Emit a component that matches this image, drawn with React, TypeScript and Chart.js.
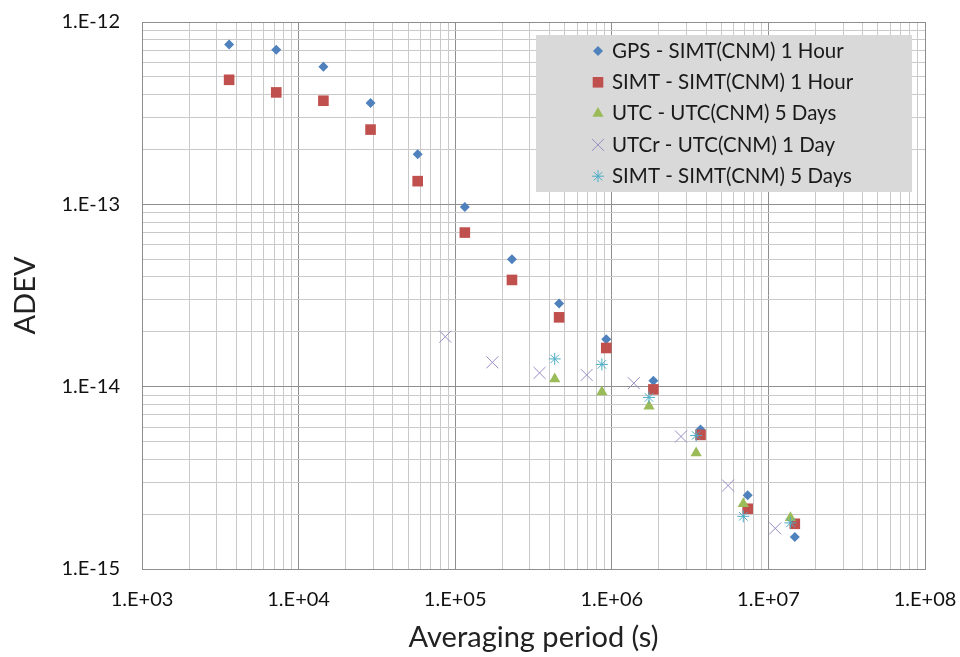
import React, { useEffect, useRef } from 'react';
import { Chart, registerables } from 'chart.js';
import { drawPoint } from 'chart.js/helpers';

Chart.register(...registerables);

const FONT = 'Lato, "Liberation Sans", sans-serif';

const seriesNames = [
  'GPS - SIMT(CNM) 1 Hour',
  'SIMT - SIMT(CNM) 1 Hour',
  'UTC - UTC(CNM) 5 Days',
  'UTCr - UTC(CNM) 1 Day',
  'SIMT - SIMT(CNM) 5 Days',
];

const gpsTau = [3600, 7200, 14400, 28800, 57600, 115200, 230400, 460800, 921600, 1843200, 3686400, 7372800, 14745600];
const gpsAdev = [7.53e-13, 7.05e-13, 5.68e-13, 3.59e-13, 1.88e-13, 9.68e-14, 5.0e-14, 2.86e-14, 1.82e-14, 1.076e-14, 5.82e-15, 2.54e-15, 1.5e-15];

const simtHourTau = [3600, 7200, 14400, 28800, 57600, 115200, 230400, 460800, 921600, 1843200, 3686400, 7372800, 14745600];
const simtHourAdev = [4.82e-13, 4.11e-13, 3.7e-13, 2.57e-13, 1.34e-13, 7.0e-14, 3.85e-14, 2.4e-14, 1.63e-14, 9.66e-15, 5.44e-15, 2.14e-15, 1.77e-15];

const utcTau = [432000, 864000, 1728000, 3456000, 6912000, 13824000];
const utcAdev = [1.1e-14, 9.36e-15, 7.81e-15, 4.33e-15, 2.28e-15, 1.91e-15];

const utcrTau = [86400, 172800, 345600, 691200, 1382400, 2764800, 5529600, 11059200];
const utcrAdev = [1.88e-14, 1.36e-14, 1.19e-14, 1.16e-14, 1.045e-14, 5.33e-15, 2.87e-15, 1.67e-15];

const simtDayTau = [432000, 864000, 1728000, 3456000, 6912000, 13824000];
const simtDayAdev = [1.42e-14, 1.325e-14, 8.73e-15, 5.4e-15, 1.945e-15, 1.79e-15];

const xDecades = [1e3, 1e4, 1e5, 1e6, 1e7, 1e8];
const xTickLabels = ['1.E+03', '1.E+04', '1.E+05', '1.E+06', '1.E+07', '1.E+08'];
const yDecades = [1e-15, 1e-14, 1e-13, 1e-12];
const yTickLabels = ['1.E-15', '1.E-14', '1.E-13', '1.E-12'];
const minorSteps = [1, 2, 3, 4, 5, 6, 7, 8, 9];

const colors = ['#4f81bd', '#c0504d', '#9bbb59', '#9a8cc4', '#4bacc6'];
const styles = ['rectRot', 'rect', 'triangle', 'crossRot', 'star'];
const radii = [5, 7.5, 6.5, 8.5, 6];
const borderWidths = [0, 0, 0, 1, 1];

const pts = (xs: number[], ys: number[]) => xs.map((x, i) => ({ x, y: ys[i] }));
const seriesData = [
  pts(gpsTau, gpsAdev),
  pts(simtHourTau, simtHourAdev),
  pts(utcTau, utcAdev),
  pts(utcrTau, utcrAdev),
  pts(simtDayTau, simtDayAdev),
];

function buildTicks(decades: number[]) {
  const out: { value: number }[] = [];
  for (let i = 0; i < decades.length - 1; i++) {
    for (const k of minorSteps) out.push({ value: k * decades[i] });
  }
  out.push({ value: decades[decades.length - 1] });
  return out;
}

function decadeLabel(v: number, decades: number[], labels: string[]) {
  for (let i = 0; i < decades.length; i++) {
    if (Math.abs(v / decades[i] - 1) < 1e-6) return labels[i];
  }
  return '';
}

const isDecade = (v: number) => {
  const l = Math.log10(v);
  return Math.abs(l - Math.round(l)) < 1e-6;
};

const gridColor = (c: any) => (c.tick && isDecade(c.tick.value) ? '#8e8e8e' : '#c9c9c9');

const legendPlugin = {
  id: 'boxLegend',
  afterDatasetsDraw(chart: any) {
    const ctx = chart.ctx;
    const boxL = 536;
    const boxT = 35;
    const boxW = 376;
    const boxH = 157;
    ctx.save();
    ctx.fillStyle = '#d9d9d9';
    ctx.fillRect(boxL, boxT, boxW, boxH);
    const rowH = 31.3;
    const markX = boxL + 62;
    const textX = boxL + 76;
    ctx.font = `20.5px ${FONT}`;
    ctx.textBaseline = 'middle';
    ctx.textAlign = 'left';
    seriesNames.forEach((name, i) => {
      const y = boxT + 16 + i * rowH;
      ctx.fillStyle = colors[i];
      ctx.strokeStyle = colors[i];
      ctx.lineWidth = 1;
      drawPoint(ctx, { pointStyle: styles[i] as any, radius: radii[i], rotation: 0, borderWidth: borderWidths[i] }, markX, y);
      ctx.fillStyle = '#1a1a1a';
      ctx.fillText(name, textX, y);
    });
    ctx.restore();
  },
};

export default function App() {
  const ref = useRef<HTMLCanvasElement>(null);
  useEffect(() => {
    if (!ref.current) return;
    const chart = new Chart(ref.current, {
      type: 'scatter',
      data: {
        datasets: seriesData.map((d, i) => ({
          label: seriesNames[i],
          data: d,
          pointStyle: styles[i] as any,
          pointRadius: radii[i],
          pointHoverRadius: radii[i],
          pointBackgroundColor: colors[i],
          pointBorderColor: colors[i],
          pointBorderWidth: borderWidths[i],
          backgroundColor: colors[i],
          borderColor: colors[i],
          order: seriesNames.length - i,
        })),
      },
      options: {
        animation: false,
        responsive: true,
        maintainAspectRatio: false,
        layout: { padding: { left: 0, right: 35, top: 22, bottom: 0 } },
        plugins: { legend: { display: false }, tooltip: { enabled: false } },
        scales: {
          x: {
            type: 'logarithmic',
            min: xDecades[0],
            max: xDecades[xDecades.length - 1],
            afterBuildTicks: (s: any) => { s.ticks = buildTicks(xDecades); },
            afterFit: (s: any) => {
              s.height = 88;
              s.paddingLeft = 0;
              s.paddingRight = 0;
              s.paddingTop = 0;
              s.paddingBottom = 0;
            },
            grid: { color: gridColor, lineWidth: 1, drawTicks: false },
            border: { color: '#8e8e8e' },
            ticks: {
              autoSkip: false,
              maxRotation: 0,
              padding: 19,
              color: '#111',
              font: { family: FONT, size: 20 },
              callback: (v: any) => decadeLabel(Number(v), xDecades, xTickLabels),
            },
            title: {
              display: true,
              text: 'Averaging period (s)',
              color: '#222',
              font: { family: FONT, size: 29 },
              padding: { top: 0, bottom: 2 },
            },
          },
          y: {
            type: 'logarithmic',
            min: yDecades[0],
            max: yDecades[yDecades.length - 1],
            afterBuildTicks: (s: any) => { s.ticks = buildTicks(yDecades); },
            afterFit: (s: any) => {
              s.width = 142;
              s.paddingLeft = 0;
              s.paddingRight = 0;
              s.paddingTop = 0;
              s.paddingBottom = 0;
            },
            grid: { color: gridColor, lineWidth: 1, drawTicks: false },
            border: { color: '#8e8e8e' },
            ticks: {
              autoSkip: false,
              padding: 22,
              color: '#111',
              font: { family: FONT, size: 20 },
              callback: (v: any) => decadeLabel(Number(v), yDecades, yTickLabels),
            },
            title: {
              display: true,
              text: 'ADEV',
              color: '#222',
              font: { family: FONT, size: 29 },
              padding: { top: 8, bottom: 0 },
            },
          },
        },
      },
      plugins: [legendPlugin],
    });
    return () => chart.destroy();
  }, []);
  return (
    <div style={{ position: 'absolute', left: 0, top: 0, width: 960, height: 657, background: '#fff' }}>
      <canvas ref={ref} />
    </div>
  );
}
